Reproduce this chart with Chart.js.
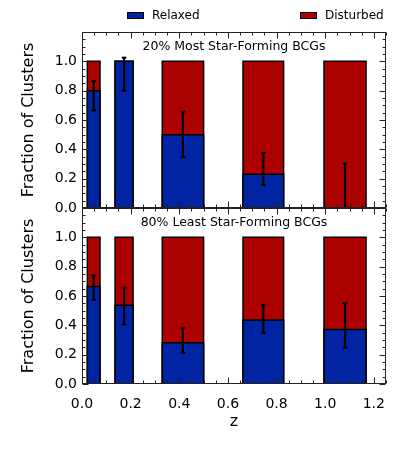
<!DOCTYPE html>
<html lang="en">
<head>
<meta charset="UTF-8">
<title>Relaxed vs Disturbed Clusters</title>
<script src="https://cdn.jsdelivr.net/npm/chart.js@4"></script>
<style>
  body { margin: 0; background: #fff; font-family: "DejaVu Sans", sans-serif; }
  #wrap { position: relative; width: 407px; height: 452px; }
  #chart { position: absolute; left: 0; top: 0; }
  .key { position: absolute; top: 8px; font-size: 12px; color: #000; display: flex; align-items: center; }
  .key .sw { display: inline-block; width: 15px; height: 5px; border: 1px solid #000; margin-right: 8px; }
</style>
</head>
<body>
<div id="wrap">
  <canvas id="chart" width="407" height="452"></canvas>
  <div class="key" style="left:127px"><span class="sw" style="background:#0024a3"></span><span id="k0"></span></div>
  <div class="key" style="left:300px"><span class="sw" style="background:#ad0000"></span><span id="k1"></span></div>
</div>
<script>
// redshift bins (bar edges)
const zLow  = [0.022, 0.136, 0.330, 0.662, 0.995];
const zHigh = [0.074, 0.210, 0.500, 0.829, 1.168];

// top panel: 20% most star-forming BCGs
const relaxedTop = [0.80, 1.00, 0.50, 0.23, 0.00];
const errLowTop  = [0.665, 0.80, 0.347, 0.156, 0.00];
const errHighTop = [0.865, 1.025, 0.657, 0.376, 0.303];

// bottom panel: 80% least star-forming BCGs
const relaxedBot = [0.665, 0.537, 0.282, 0.437, 0.371];
const errLowBot  = [0.574, 0.405, 0.214, 0.349, 0.248];
const errHighBot = [0.740, 0.658, 0.383, 0.537, 0.551];

const panelTitles = ['20% Most Star-Forming BCGs', '80% Least Star-Forming BCGs'];
const legendLabels = ['Relaxed', 'Disturbed'];
const yTickLabels = ['0.0', '0.2', '0.4', '0.6', '0.8', '1.0'];
const xTickLabels = ['0.0', '0.2', '0.4', '0.6', '0.8', '1.0', '1.2'];

const BLUE = '#0024a3';
const RED = '#ad0000';

document.getElementById('k0').textContent = legendLabels[0];
document.getElementById('k1').textContent = legendLabels[1];

Chart.defaults.font.family = '"DejaVu Sans", sans-serif';
Chart.defaults.color = '#000';

function isMajor(v) {
    return Math.abs(v / 0.2 - Math.round(v / 0.2)) < 1e-6;
}

function panelSets(axis, relaxed, errLow, errHigh) {
    const sets = [];
    zLow.forEach((lo, i) => {
        const hi = zHigh[i];
        const mid = (lo + hi) / 2;
        // disturbed part: whole bar in red, blue drawn over it
        sets.push({
            yAxisID: axis, order: 3,
            data: [{x: lo, y: 0}, {x: lo, y: 1}, {x: hi, y: 1}, {x: hi, y: 0}],
            borderColor: '#000', backgroundColor: RED, fill: 'origin',
            borderWidth: 1.5, pointRadius: 0, borderJoinStyle: 'miter'
        });
        sets.push({
            yAxisID: axis, order: 2,
            data: [{x: lo, y: 0}, {x: lo, y: relaxed[i]}, {x: hi, y: relaxed[i]}, {x: hi, y: 0}],
            borderColor: '#000', backgroundColor: BLUE, fill: 'origin',
            borderWidth: 1.5, pointRadius: 0, borderJoinStyle: 'miter'
        });
        sets.push({
            yAxisID: axis, order: 1,
            data: [{x: mid, y: errLow[i]}, {x: mid, y: errHigh[i]}],
            borderColor: '#000', borderWidth: 2.2, fill: false,
            pointStyle: 'line', pointRadius: 2.3, pointBorderWidth: 2, pointBorderColor: '#000'
        });
    });
    return sets;
}

// box, inward ticks and panel titles
const frame = {
    id: 'frame',
    afterDatasetsDraw(chart) {
        const {ctx, chartArea: a, scales} = chart;
        const xs = scales.x;
        const seg = (x1, y1, x2, y2) => {
            ctx.beginPath();
            ctx.moveTo(x1, y1);
            ctx.lineTo(x2, y2);
            ctx.stroke();
        };
        ctx.save();
        ctx.strokeStyle = '#222';
        ctx.lineWidth = 1;
        ['yTop', 'yBot'].forEach((id, p) => {
            const ys = scales[id];
            const L = Math.round(a.left) + 0.5, R = Math.round(a.right) - 0.5;
            const T = Math.round(ys.top) + 0.5, B = Math.round(ys.bottom) - 0.5;
            ctx.strokeRect(L, T, R - L, B - T);
            ys.ticks.forEach(t => {
                const py = Math.round(ys.getPixelForValue(t.value)) + 0.5;
                const len = isMajor(t.value) ? 6 : 3;
                seg(L, py, L + len, py);
                seg(R, py, R - len, py);
            });
            xs.ticks.forEach(t => {
                const px = Math.round(xs.getPixelForValue(t.value)) + 0.5;
                const len = isMajor(t.value) ? 6 : 3;
                seg(px, B, px, B - len);
                seg(px, T, px, T + len);
            });
            ctx.fillStyle = '#000';
            ctx.font = '12.5px "DejaVu Sans", sans-serif';
            ctx.textAlign = 'center';
            ctx.textBaseline = 'middle';
            ctx.fillText(panelTitles[p], (a.left + a.right) / 2, ys.getPixelForValue(1.1));
        });
        ctx.restore();
    }
};

function yAxis(label) {
    return {
        type: 'linear', position: 'left', stack: 'panels', stackWeight: 1,
        min: 0, max: 1.2,
        border: {display: false},
        grid: {display: false, drawTicks: false},
        ticks: {
            stepSize: 0.05, autoSkip: false, padding: 5, font: {size: 14},
            callback: v => (isMajor(v) && v < 1.1) ? yTickLabels[Math.round(v / 0.2)] : ''
        },
        title: {display: true, text: label, font: {size: 16}, padding: {top: 19, bottom: 0}},
        afterFit: s => { s.width = 82; }
    };
}

new Chart(document.getElementById('chart'), {
    type: 'line',
    data: {
        datasets: [
            ...panelSets('yTop', relaxedTop, errLowTop, errHighTop),
            ...panelSets('yBot', relaxedBot, errLowBot, errHighBot)
        ]
    },
    options: {
        responsive: false,
        animation: false,
        layout: {padding: {top: 32, right: 21, left: 0, bottom: 0}},
        plugins: {legend: {display: false}, tooltip: {enabled: false}},
        scales: {
            x: {
                type: 'linear', position: 'bottom', min: 0, max: 1.25,
                border: {display: false},
                grid: {display: false, drawTicks: false},
                ticks: {
                    stepSize: 0.05, autoSkip: false, maxRotation: 0, minRotation: 0,
                    padding: 12, font: {size: 14},
                    callback: v => isMajor(v) ? xTickLabels[Math.round(v / 0.2)] : ''
                },
                title: {display: true, text: 'z', font: {size: 16}, padding: {top: 0, bottom: 21}},
                afterFit: s => { s.height = 68; }
            },
            yBot: yAxis('Fraction of Clusters'),
            yTop: yAxis('Fraction of Clusters')
        }
    },
    plugins: [frame]
});
</script>
</body>
</html>
